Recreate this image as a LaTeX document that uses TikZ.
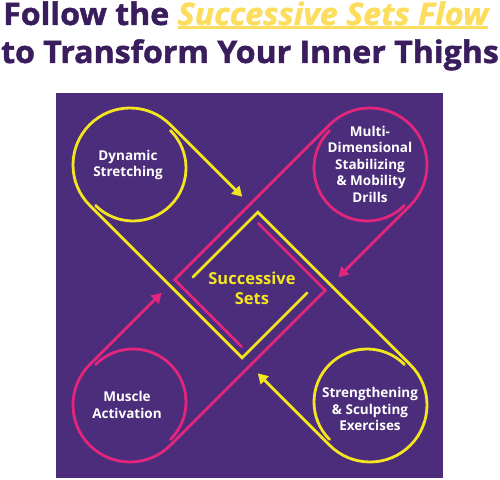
\documentclass[tikz,border=0pt]{standalone}
\usepackage{fontspec}
\setmainfont{Open Sans}
\newfontfamily\titlefont{Open Sans}[BoldFeatures={FakeBold=1.5,FakeStretch=1.035},
  BoldItalicFeatures={FakeBold=1.5,FakeStretch=1.04}]
\usetikzlibrary{arrows.meta,calc}

\definecolor{panelpurple}{HTML}{4B2D7B}
\definecolor{titlepurple}{HTML}{3A1D5C}
\definecolor{lineyellow}{HTML}{F4E61E}
\definecolor{titleyellow}{HTML}{FCDD5D}
\definecolor{linepink}{HTML}{E2267C}

% thick underline for the title
\newcommand{\flowmark}[1]{\setbox0\hbox{#1}\rlap{\rule[-4.3pt]{\wd0}{3pt}}\box0}

\tikzset{
  loopline/.style={line width=2.8pt, line cap=round, line join=miter},
  flowarrow/.style={loopline, -{Triangle[length=10pt,width=11pt]}},
  steplabel/.style={text=white, font=\bfseries\fontsize{13.5}{16.5}\selectfont, align=center, inner sep=0pt},
  titleline/.style={anchor=base west, inner sep=0pt, text=titlepurple, font=\titlefont\bfseries\fontsize{31}{31}\selectfont},
}

\begin{document}
\begin{tikzpicture}[x=1pt,y=1pt]
    \useasboundingbox (0,0) rectangle (500,479);
    % title
    \node[titleline] (titletop) at (3,454) {Follow the \textcolor{titleyellow}{\itshape\flowmark{Successive Sets Flow}}};
    \node[titleline] (titlebottom) at (1,416) {to Transform Your Inner Thighs};

    % panel
    \fill[panelpurple] (56,1) rectangle (443,386);

    % circle centres and corners of the two loops
    \coordinate (dsc) at (130,314);
    \coordinate (mdc) at (370,314);
    \coordinate (mac) at (130,74);
    \coordinate (ssc) at (370,74);
    \coordinate (yb) at (242.2,121.2);
    \coordinate (ye1) at (307.2,186.2);
    \coordinate (yt) at (257.8,266.8);
    \coordinate (ye2) at (192.8,201.8);
    \coordinate (pc1) at (174.7,199.3);
    \coordinate (pe1) at (241.7,132.3);
    \coordinate (pc2) at (325.3,188.7);
    \coordinate (pe2) at (258.3,255.7);

    % yellow loops
    \draw[flowarrow, lineyellow] (ye1) -- (yb) -- ($(dsc)+(225:57pt)$)
        arc[start angle=225, end angle=45, radius=57pt] -- ++(72,-72);
    \draw[loopline, lineyellow] ($(dsc)+(3,-3)+(45:53pt)$) arc[start angle=45, end angle=-135, radius=53pt];
    \draw[flowarrow, lineyellow] (ye2) -- (yt) -- ($(ssc)+(45:57pt)$)
        arc[start angle=45, end angle=-135, radius=57pt] -- ++(-72,72);
    \draw[loopline, lineyellow] ($(ssc)+(-3,3)+(45:53pt)$) arc[start angle=45, end angle=225, radius=53pt];

    % pink loops
    \draw[flowarrow, linepink] (pe1) -- (pc1) -- ($(mdc)+(135:57pt)$)
        arc[start angle=135, end angle=-45, radius=57pt] -- ++(-72,-72);
    \draw[loopline, linepink] ($(mdc)+(-3,-3)+(135:53pt)$) arc[start angle=135, end angle=315, radius=53pt];
    \draw[flowarrow, linepink] (pe2) -- (pc2) -- ($(mac)+(315:57pt)$)
        arc[start angle=315, end angle=135, radius=57pt] -- ++(72,72);
    \draw[loopline, linepink] ($(mac)+(3,3)+(135:53pt)$) arc[start angle=135, end angle=-45, radius=53pt];

    % labels
    \node[steplabel] (ds) at (128,314) {Dynamic\\Stretching};
    \node[steplabel] (md) at (370,315) {Multi-\\Dimensional\\Stabilizing\\\,\& Mobility\\Drills};
    \node[steplabel] (ma) at (127,74) {Muscle\\Activation};
    \node[steplabel] (ss) at (370,70) {Strengthening\\\& Sculpting\\Exercises};
    \node[steplabel, text=lineyellow, font=\bfseries\fontsize{16.5}{20}\selectfont] (sets) at (252,191) {Successive\\Sets};
\end{tikzpicture}
\end{document}
